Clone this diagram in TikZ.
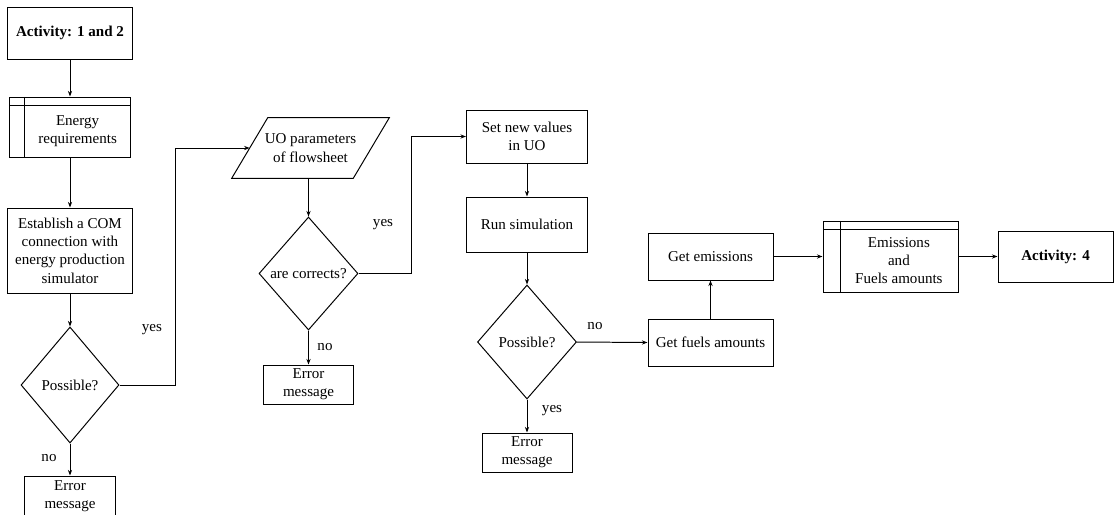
\documentclass[tikz,border=0pt]{standalone}
\usepackage{fontspec}
\setmainfont{Liberation Serif}
\usetikzlibrary{shapes.geometric, arrows.meta}

\tikzset{
  box/.style={draw, line width=0.7pt, align=center, inner sep=1pt},
  subproc/.style 2 args={box, path picture={
      \draw[line width=0.7pt] ([xshift=#1]path picture bounding box.north west) -- ([xshift=#1]path picture bounding box.south west);
      \draw[line width=0.7pt] ([yshift=-#2]path picture bounding box.north west) -- ([yshift=-#2]path picture bounding box.north east);}},
  decision/.style={draw, diamond, aspect=0.87, line width=0.7pt, inner sep=0pt},
  datain/.style={align=center, inner sep=0pt},
  flow/.style={-{Stealth[length=4pt, width=3pt]}, line width=0.7pt},
  lbl/.style={inner sep=1pt},
}

\begin{document}
\begin{tikzpicture}[x=0.025cm, y=-0.025cm, font=\fontsize{10.7}{13}\selectfont]
    \useasboundingbox (0,0) rectangle (1115,514);

    % 1. first column: activity, requirements, COM connection
    \node[box, minimum width=3.1cm, minimum height=1.3cm, font=\fontsize{10.7}{13}\bfseries] (act12) at (70,33) {Activity: 1 and 2};
    \node[subproc={0.375cm}{0.2cm}, minimum width=3cm, minimum height=1.5cm] (energy) at (70,127) {};
    \node[align=center, inner sep=0pt] (energy-txt) at ([xshift=0.19cm, yshift=-0.1cm]energy.center) {Energy\\requirements};
    \node[box, minimum width=3.125cm, minimum height=2.125cm] (com) at (70,250.5) {Establish a COM\\connection with\\energy production\\simulator};
    \node[decision, minimum width=2.45cm, minimum height=2.9cm] (dec1) at (70,385) {Possible?};
    \node[box, minimum width=2.25cm, minimum height=1cm] (err1) at (70,496) {Error\\message};

    % 2. second column: UO parameters and check
    % the slanted sides are drawn from the corners of the node
    \node[datain, minimum width=3.025cm, minimum height=1.5cm] (uo) at (310.5,148) {UO parameters\\of flowsheet};
    \draw[line width=0.7pt] ([xshift=0.45cm]uo.north west) -- ([xshift=0.45cm]uo.north east)
        -- ([xshift=-0.45cm]uo.south east) -- ([xshift=-0.45cm]uo.south west) -- cycle;
    \node[decision, minimum width=2.475cm, minimum height=2.825cm] (dec2) at (308.5,273.5) {are corrects?};
    \node[box, minimum width=2.25cm, minimum height=0.975cm] (err2) at (308.5,384.5) {Error\\message};

    % 3. third column: new values and simulation
    \node[box, minimum width=3.025cm, minimum height=1.325cm] (setuo) at (527,136.5) {Set new values\\in UO};
    \node[box, minimum width=3.025cm, minimum height=1.375cm] (run) at (527,224.5) {Run simulation};
    \node[decision, minimum width=2.475cm, minimum height=2.85cm] (dec3) at (527,342) {Possible?};
    \node[box, minimum width=2.25cm, minimum height=0.975cm] (err3) at (527,452.5) {Error\\message};

    % 4. results and output
    \node[box, minimum width=3.125cm, minimum height=1.175cm] (fuels) at (710.5,342.5) {Get fuels amounts};
    \node[box, minimum width=3.125cm, minimum height=1.175cm] (emis) at (710.5,256.5) {Get emissions};
    \node[subproc={0.425cm}{0.2cm}, minimum width=3.375cm, minimum height=1.775cm] (emfuel) at (890.5,256.5) {};
    \node[align=center, inner sep=0pt] (emfuel-txt) at ([xshift=0.21cm, yshift=-0.1cm]emfuel.center) {Emissions\\and\\Fuels amounts};
    \node[box, minimum width=2.875cm, minimum height=1.275cm, font=\fontsize{10.7}{13}\bfseries] (act4) at (1055.5,256.5) {Activity: 4};

    % 5. connectors
    \draw[flow] (act12) -- (energy);
    \draw[flow] (energy) -- (com);
    \draw[flow] (com) -- (dec1);
    \draw[flow] (dec1) -- (err1);
    \draw[flow] (dec1.east) -- ++(56,0) |- (uo.west);
    \draw[flow] (dec2.north |- uo.south) -- (dec2.north);
    \draw[flow] (dec2) -- (err2);
    \draw[flow] (dec2.east) -- ++(53,0) |- (setuo.west);
    \draw[flow] (setuo) -- (run);
    \draw[flow] (run) -- (dec3);
    \draw[flow] (dec3) -- (err3);
    \draw[flow] (dec3.east) -- (fuels.west);
    \draw[flow] (fuels) -- (emis);
    \draw[flow] (emis.east) -- (emfuel.west);
    \draw[flow] (emfuel.east) -- (act4.west);

    % 6. yes / no labels
    \node[lbl] (no1) at (49,458) {no};
    \node[lbl] (yes1) at (152,330) {yes};
    \node[lbl] (no2) at (325,347) {no};
    \node[lbl] (yes2) at (383,225) {yes};
    \node[lbl] (yes3) at (552,411) {yes};
    \node[lbl] (no3) at (595,326) {no};

\end{tikzpicture}
\end{document}
